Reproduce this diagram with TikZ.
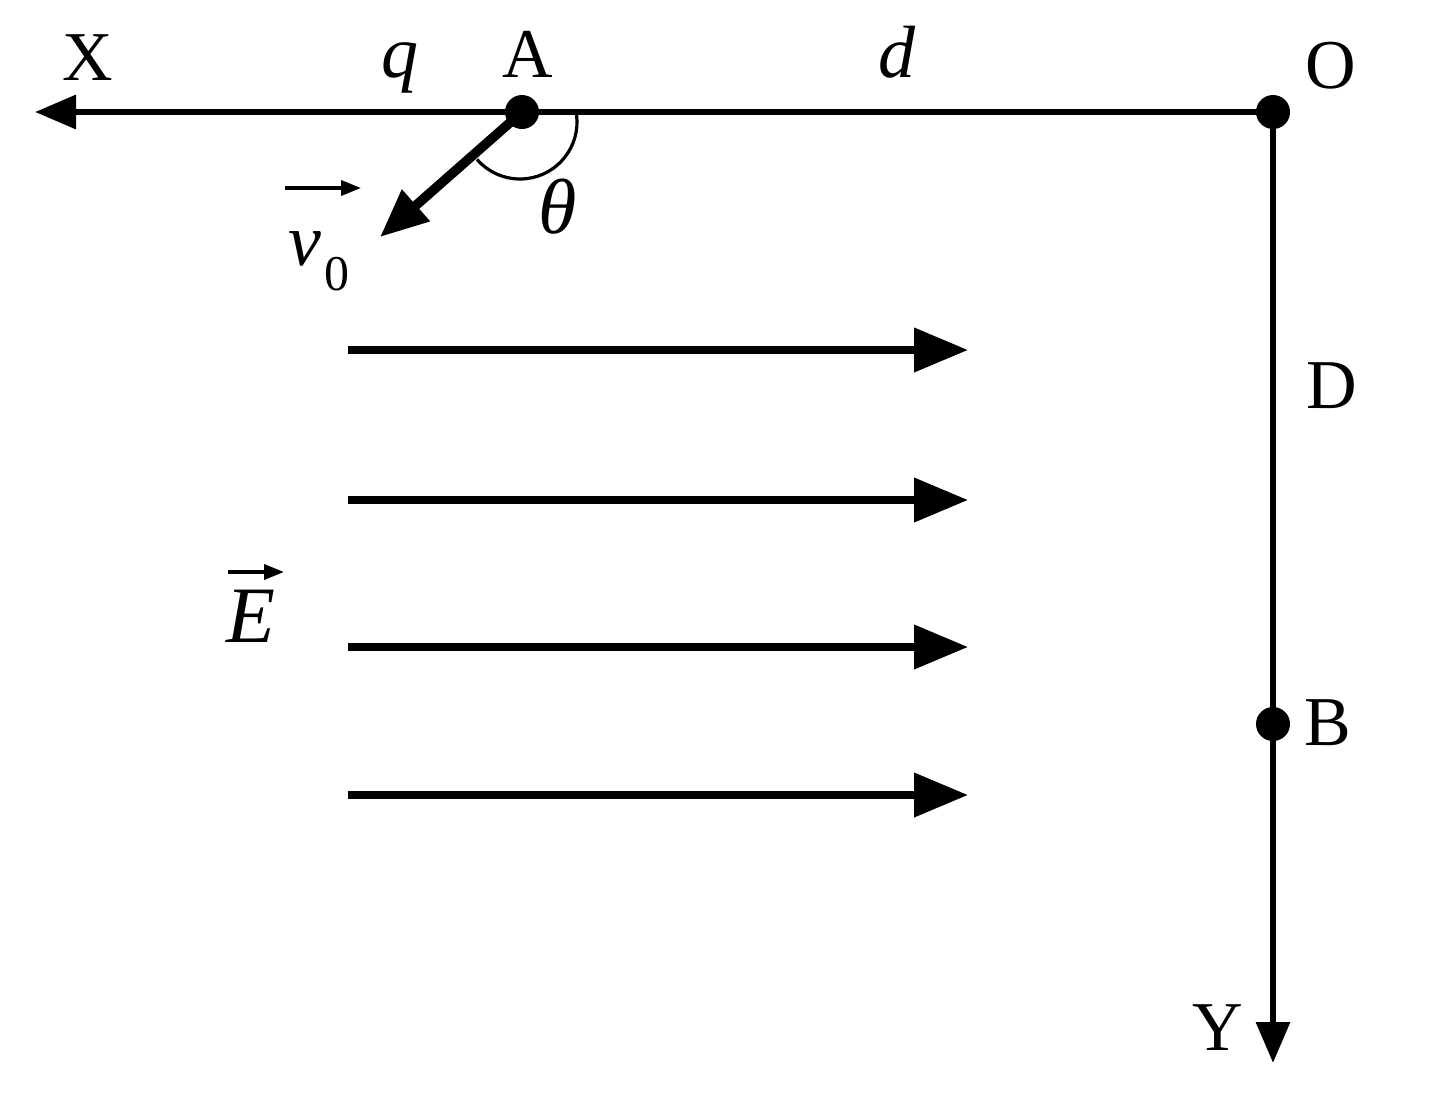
\documentclass[tikz,border=0pt]{standalone}
\usepackage{fontspec}
\setmainfont{Liberation Serif}
\usetikzlibrary{arrows.meta,calc}
\begin{document}
\begin{tikzpicture}[x=0.5pt,y=-0.5pt,
  axis/.style={line width=3.2pt,-{Triangle[length=20.5pt,width=16.5pt]}},
  field/.style={line width=3.7pt,-{Triangle[length=27pt,width=21.5pt]}},
  vel/.style={line width=4.8pt,-{Triangle[length=24pt,width=20pt]}},
  vecarrow/.style={line width=1.8pt,-{Triangle[length=10pt,width=7.5pt]}},
  dot/.style={circle,fill=black,minimum size=17pt,inner sep=0pt},
  lab/.style={inner sep=0pt,anchor=base,font=\fontsize{35}{40}\selectfont},
  ilab/.style={inner sep=0pt,anchor=base,font=\fontsize{37}{42}\selectfont\itshape},
  anglearc/.style={line width=1.6pt}]
\useasboundingbox (0,0) rectangle (1433,1098);
% points
\coordinate (Oc) at (1273,112);
\coordinate (Ac) at (522,112);
\coordinate (Bc) at (1273,724);
\coordinate (xend) at (35,112);
\coordinate (yend) at (1273,1063);
\coordinate (vend) at (380,237);
% axes
\draw[axis] (Oc) -- (xend);
\draw[axis] (Oc) -- (yend);
% velocity
\draw[vel] (Ac) -- (vend);
% angle
\draw[anglearc] (520,122) ++(-7:57) arc[start angle=-7,end angle=139,radius=57];
% dots
\node[dot] (A) at (Ac) {};
\node[dot] (O) at (Oc) {};
\node[dot] (B) at (Bc) {};
% field arrows
\foreach \i/\yy in {1/350,2/500,3/647,4/795}{
  \coordinate (es\i) at (348,\yy);
  \coordinate (ee\i) at (968,\yy);
  \draw[field] (es\i) -- (ee\i);
}
% labels
\node[lab] (lX) at (87.5,80) {X};
\node[lab] (lA) at (528,77) {A};
\node[lab] (lO) at (1331,88) {O};
\node[lab] (lD) at (1332,408) {D};
\node[lab] (lB) at (1328,745) {B};
\node[lab] (lY) at (1218,1050) {Y};
\node[ilab] (lq) at (400,77) {q};
\node[ilab] (ld) at (897,77) {d};
\node[ilab,font=\fontsize{39}{44}\selectfont\itshape] (lth) at (558,233) {θ};
\node[ilab] (lv) at (305,265) {v};
\node[inner sep=0pt,anchor=base,font=\fontsize{25}{29}\selectfont] (lv0) at (337,290) {0};
\draw[vecarrow] ($(lv.base)+(-20,-77)$) -- ($(lv.base)+(56,-77)$);
\node[inner sep=0pt,anchor=base,font=\fontsize{40}{46}\selectfont\itshape] (lE) at (251,642) {E};
\draw[vecarrow] ($(lE.base)+(-23,-70)$) -- ($(lE.base)+(33,-70)$);
\end{tikzpicture}
\end{document}
